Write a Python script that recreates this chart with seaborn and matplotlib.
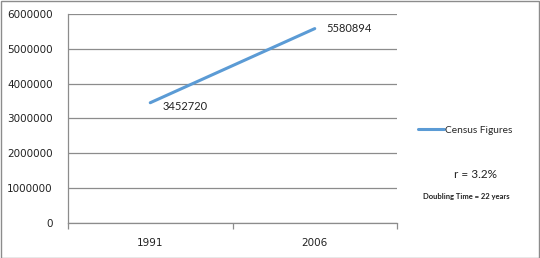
import matplotlib
matplotlib.use("Agg")
import matplotlib.pyplot as plt
import seaborn as sns
import pandas as pd
from matplotlib.lines import Line2D

years = ["1991", "2006"]
census = [3452720, 5580894]
yticks = [0, 1000000, 2000000, 3000000, 4000000, 5000000, 6000000]
series_name = "Census Figures"
rate_text = "r = 3.2%"
doubling_text = "Doubling Time = 22 years"

sns.set_theme(style="white")
plt.rcParams['font.family'] = ['DejaVu Sans']

df = pd.DataFrame({"Year": years, "Population": census, "pos": [0, 1]})

fig = plt.figure(figsize=(5.4, 2.58), dpi=100)
ax = fig.add_axes([68/540, 35/258, (397-68)/540, (223-14)/258])

line_color = "#5B9BD5"
sns.lineplot(data=df, x="pos", y="Population", ax=ax, color=line_color,
             linewidth=2.2, legend=False)

ax.set_xlim(-0.5, 1.5)
ax.set_ylim(0, 6000000)
ax.set_yticks(yticks)
ax.set_yticklabels([str(v) for v in yticks], fontsize=7.5, color="#222222")
ax.yaxis.grid(True, color="#8c8c8c", linewidth=0.9)
ax.set_axisbelow(True)
ax.set_xticks([0, 1])
ax.set_xticklabels(years, fontsize=7.5, color="#222222")
ax.set_xticks([-0.5, 0.5, 1.5], minor=True)
ax.tick_params(axis="x", which="major", length=0, pad=11)
ax.tick_params(axis="x", which="minor", length=4, direction="out", color="#8c8c8c", width=0.9, bottom=True)
ax.tick_params(axis="y", length=0, pad=11)
ax.set_xlabel("")
ax.set_ylabel("")
for s in ["top", "right"]:
    ax.spines[s].set_visible(False)
for s in ["left", "bottom"]:
    ax.spines[s].set_color("#8c8c8c")
    ax.spines[s].set_linewidth(0.9)

# data labels
ax.annotate(f"{census[0]}", (0, census[0]), xytext=(9, -3), textcoords="offset points",
            ha="left", va="center", fontsize=8, family="Lato", color="#222222")
ax.annotate(f"{census[1]}", (1, census[1]), xytext=(8, 0), textcoords="offset points",
            ha="left", va="center", fontsize=8, family="Lato", color="#222222")

# legend
handle = Line2D([0], [0], color=line_color, linewidth=2.2)
fig.legend([handle], [series_name], loc="center left", bbox_to_anchor=(418/540, 1 - 130/258),
           frameon=False, prop={"family": "Lato", "size": 7.3}, handlelength=2.6,
           handletextpad=0.05, borderaxespad=0, borderpad=0)

fig.text(476/540, 1 - 174/258, rate_text, ha="center", va="center", fontsize=8.5,
         family="Lato", color="#222222")
fig.text(466/540, 1 - 197/258, doubling_text, ha="center", va="center", fontsize=5.5,
         family="Lato", fontweight="bold", color="#222222")

# outer border
border = plt.Rectangle((0.5/540, 0.5/258), 538.5/540, 256.5/258, transform=fig.transFigure,
                       fill=False, edgecolor="#8c8c8c", linewidth=1.0)
fig.patches.append(border)

fig.savefig("out.png", dpi=100)
